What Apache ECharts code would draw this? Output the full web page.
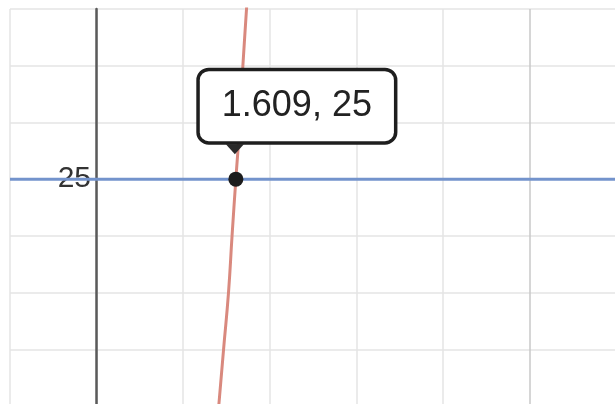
<!DOCTYPE html>
<html lang="en">
<head>
	<meta charset="UTF-8">
	<title>Intersection</title>
	<script type="text/javascript" src="https://cdn.jsdelivr.net/npm/echarts@6/dist/echarts.min.js"></script>
	<style type="text/css">
		html,body{margin:0;padding:0;background:#fff;}
	</style>
</head>
<body>
	<div id="main" style="width:615px;height:404px;"></div>

	<script>
		// red curve, points
		var curveX = [1.40, 1.467, 1.524, 1.565, 1.609, 1.655, 1.69, 1.732, 1.77];
		var curveY = [4, 10, 15, 20, 25, 30, 35, 40, 45];
		// blue horizontal line
		var levelY = 25;
		var levelX = [-1, 6];
		// marked intersection
		var pointX = 1.609;
		var pointY = 25;
		var pointText = '1.609, 25';
		var yLabels = ['25'];

		var curve = [];
		for (var i = 0; i < curveX.length; i++) {
			curve.push([curveX[i], curveY[i]]);
		}

		var minor = '#e4e4e4';
		var major = '#c9c9c9';

		var chart = echarts.init(document.getElementById('main'));
		var option = {
			animation: false,
			grid: {left: 10, right: -1, top: 9, bottom: -2, outerBoundsMode: 'none', containLabel: false},
			xAxis: {
				type: 'value',
				min: -1, max: 6, interval: 1,
				axisLine: {show: false},
				axisTick: {show: false},
				axisLabel: {show: false},
				splitLine: {
					lineStyle: {
						color: [minor, minor, minor, minor, minor, minor, major, minor],
						width: 1.5
					}
				}
			},
			yAxis: {
				type: 'value',
				min: 5, max: 40, interval: 5,
				axisLine: {show: true, onZero: true, lineStyle: {color: '#5a5a5a', width: 2.5}},
				axisTick: {show: false},
				axisLabel: {
					show: true,
					margin: -81,
					fontSize: 30,
					color: '#333',
					fontFamily: 'Liberation Sans, Arial',
					formatter: function (v) {
						return yLabels.indexOf(String(v)) >= 0 ? String(v) : '';
					}
				},
				splitLine: {lineStyle: {color: minor, width: 1.5}}
			},
			series: [
				{
					type: 'line',
					data: [[levelX[0], levelY], [levelX[1], levelY]],
					showSymbol: false,
					lineStyle: {color: '#7393cc', width: 3},
					z: 3
				},
				{
					type: 'line',
					data: curve,
					smooth: true,
					showSymbol: false,
					lineStyle: {color: '#d9897e', width: 3},
					z: 3
				},
				{
					type: 'scatter',
					data: [[pointX, pointY]],
					symbol: 'triangle',
					symbolRotate: 180,
					symbolSize: [18, 10],
					symbolOffset: [-1, -30],
					itemStyle: {color: '#2a2a2a', opacity: 1},
					z: 4
				},
				{
					type: 'scatter',
					data: [[pointX, pointY]],
					symbolSize: 15,
					itemStyle: {color: '#1c1c1c', opacity: 1},
					z: 5,
					label: {
						show: true,
						position: 'inside',
						offset: [61, -73],
						formatter: pointText,
						fontSize: 36,
						lineHeight: 42,
						fontFamily: 'Liberation Sans, Arial',
						color: '#222',
						opacity: 1,
						backgroundColor: '#fff',
						borderColor: '#1e1e1e',
						borderWidth: 3.5,
						borderRadius: 9,
						padding: [14, 22, 14, 22]
					}
				}
			]
		};
		chart.setOption(option);
	</script>
</body>
</html>
